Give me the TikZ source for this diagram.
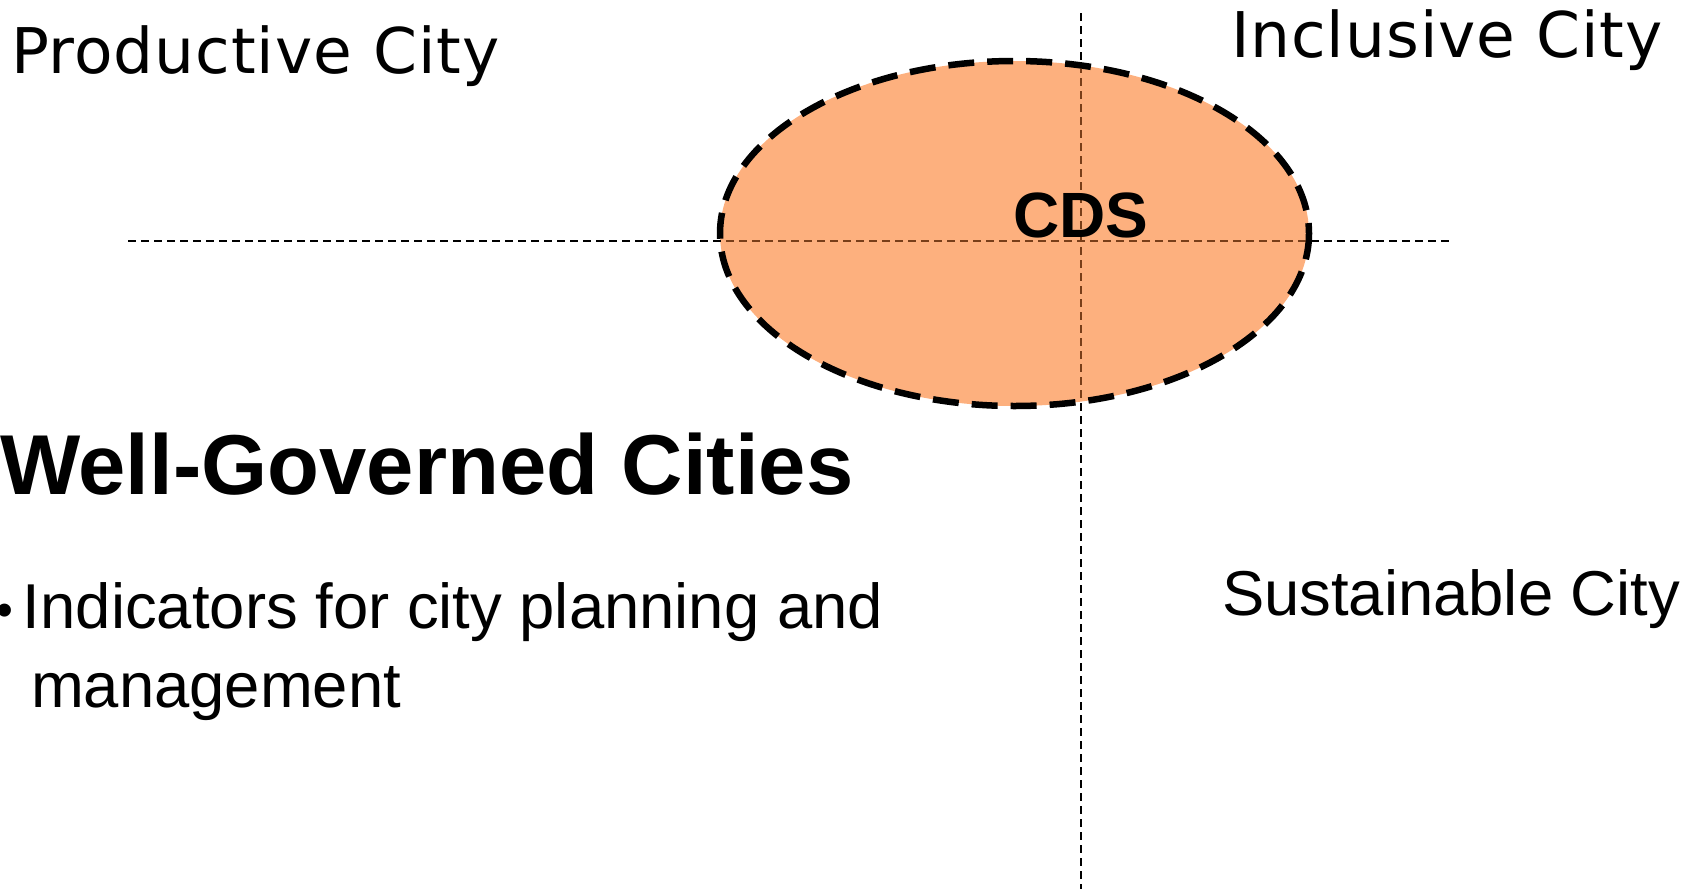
\documentclass[tikz,border=0pt]{standalone}
\usepackage{fontspec}
\setmainfont{Liberation Sans}
\newfontfamily\dvfont[LetterSpace=1.5]{DejaVu Sans}
\definecolor{cdsfill}{RGB}{253,176,126}
\definecolor{axisbrown}{RGB}{120,62,25}
\tikzset{
  lbl/.style={inner sep=0pt, outer sep=0pt, anchor=base west},
  quadlbl/.style={lbl, font=\dvfont\fontsize{63}{70}\selectfont},
  bodytxt/.style={lbl, font=\fontsize{63.4}{70}\selectfont},
  axisline/.style={line width=1.7pt, dash pattern=on 8pt off 5pt},
  cdsshape/.style={fill=cdsfill, draw=black, line width=6.5pt, dash pattern=on 26pt off 13pt},
}
\begin{document}
\begin{tikzpicture}[x=1pt,y=-1pt]
\useasboundingbox (0,0) rectangle (1700,889);
% ellipse
\path[cdsshape] (1014.5,233.5) ellipse [x radius=294.5, y radius=172.5];
% axes
\coordinate (hl) at (128,241);
\coordinate (hr) at (1453,241);
\coordinate (vt) at (1081,13);
\coordinate (vb) at (1081,889);
\draw[axisline, black] (hl) -- (hr);
\draw[axisline, black] (vt) -- (vb);
\begin{scope}
  \clip (1014.5,233.5) ellipse [x radius=291.5, y radius=169.5];
  \draw[axisline, axisbrown] (hl) -- (hr);
  \draw[axisline, axisbrown] (vt) -- (vb);
\end{scope}
% labels
\node[quadlbl] (prod) at (11,73) {Productive City};
\node[quadlbl] (incl) at (1231,57) {Inclusive City};
\node[inner sep=0pt, anchor=base, font=\bfseries\fontsize{64}{70}\selectfont] (cds) at (1081,237) {CDS};
\node[lbl, font=\bfseries\fontsize{85}{90}\selectfont] (wgc) at (0,494) {Well-Governed Cities};
\node[lbl, font=\fontsize{48}{50}\selectfont] (bul) at (-3,626) {•};
\node[bodytxt] (ind1) at (23,628) {Indicators for city planning and};
\node[bodytxt] (ind2) at (31,707) {management};
\node[bodytxt] (sust) at (1222,615) {Sustainable City};
\end{tikzpicture}
\end{document}
